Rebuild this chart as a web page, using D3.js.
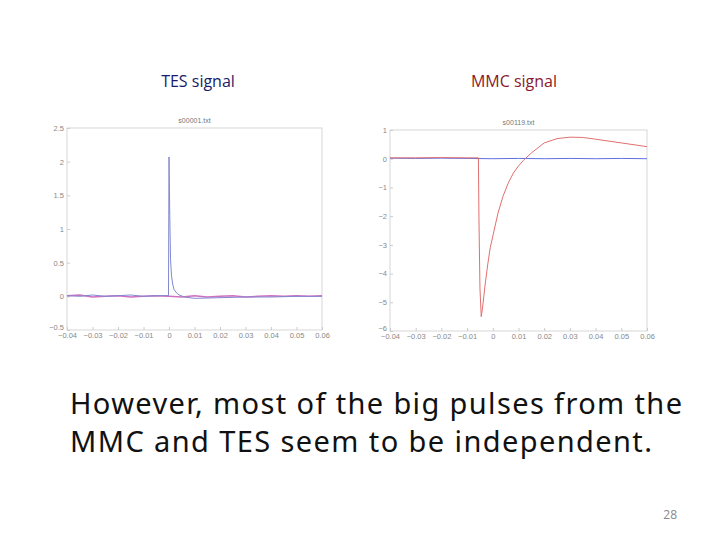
<!DOCTYPE html>
<html><head><meta charset="utf-8">
<script src="https://cdn.jsdelivr.net/npm/d3@7"></script>
<style>body{margin:0;background:#fff}svg{display:block}</style>
</head><body>
<script>
// TES plot data
var tesX = [-0.04,-0.035,-0.03,-0.025,-0.02,-0.015,-0.01,-0.005,-0.0002,0,0.0003,0.0006,0.001,0.0015,0.002,0.003,0.004,0.006,0.01,0.02,0.03,0.04,0.05,0.06];
var tesBlue = [0.01,0.0,0.02,0.0,0.01,0.02,0.0,0.01,0.01,2.07,1.2,0.55,0.3,0.17,0.1,0.05,0.02,-0.01,-0.03,-0.02,-0.01,-0.01,0.0,0.0];
var tesPinkX = [-0.04,-0.035,-0.03,-0.025,-0.02,-0.015,-0.01,-0.005,0,0.005,0.01,0.015,0.02,0.025,0.03,0.035,0.04,0.045,0.05,0.055,0.06];
var tesPink = [0.01,0.02,-0.01,0.0,0.01,-0.01,0.0,0.01,0.0,-0.01,0.01,-0.01,0.0,0.01,-0.01,0.0,0.01,0.0,0.01,0.0,0.01];
var tesYTicks = [-0.5,0,0.5,1,1.5,2,2.5];
// MMC plot data
var mmcRedX = [-0.04,-0.03,-0.02,-0.01,-0.0056,-0.0054,-0.005,-0.0045,-0.004,-0.003,-0.002,-0.001,0,0.002,0.004,0.006,0.008,0.01,0.012,0.015,0.02,0.025,0.03,0.035,0.04,0.05,0.06];
var mmcRed = [0.03,0.03,0.04,0.03,0.03,-2,-4.5,-5.5,-5.2,-4.4,-3.7,-3.1,-2.7,-1.9,-1.3,-0.85,-0.5,-0.25,-0.05,0.2,0.55,0.7,0.75,0.74,0.68,0.55,0.42];
var mmcBlueX = [-0.04,-0.03,-0.02,-0.01,0,0.01,0.02,0.03,0.04,0.05,0.06];
var mmcBlue = [0.02,0.01,0.02,0.01,0.0,0.01,0.0,0.01,0.0,0.01,0.0];
var mmcYTicks = [-6,-5,-4,-3,-2,-1,0,1];
var xTicks = [-0.04,-0.03,-0.02,-0.01,0,0.01,0.02,0.03,0.04,0.05,0.06];

var svg = d3.select("body").append("svg").attr("width",720).attr("height",540);

function plot(left, right, top, bottom, yDom, yTicks, title, series){
  var x = d3.scaleLinear().domain([-0.04,0.06]).range([left,right]);
  var y = d3.scaleLinear().domain(yDom).range([bottom,top]);
  var g = svg.append("g").attr("font-family","Liberation Sans, Arial").attr("font-size",7).attr("fill","#777");
  g.append("rect").attr("x",left).attr("y",top).attr("width",right-left).attr("height",bottom-top)
    .attr("fill","none").attr("stroke","#ccc").attr("stroke-width",0.8);
  g.append("g").attr("transform","translate(0,"+bottom+")")
    .call(d3.axisBottom(x).tickValues(xTicks).tickSize(-3).tickPadding(3).tickFormat(function(d){return d3.format("")(+d.toFixed(2)).replace("-","\u2212");}))
    .call(function(a){a.select(".domain").remove();a.selectAll("line").attr("stroke","#ccc");a.selectAll("text").attr("fill","#888").attr("font-size",7.5);});
  g.append("g").attr("transform","translate("+left+",0)")
    .call(d3.axisLeft(y).tickValues(yTicks).tickSize(-3).tickFormat(function(d){return String(d).replace("-","\u2212");}))
    .call(function(a){a.select(".domain").remove();a.selectAll("line").attr("stroke","#ccc");
      a.selectAll("text").attr("fill","#888").attr("font-size",7.5).attr("dy",function(d){return d===yDom[0]?"-0.1em":"0.32em";});});
  g.append("text").attr("x",(left+right)/2).attr("y",top-5).attr("text-anchor","middle").text(title);
  series.forEach(function(s){
    var pts = s.xs.map(function(v,i){return [v,s.ys[i]];});
    svg.append("path").datum(pts).attr("fill","none").attr("stroke",s.color).attr("stroke-width",s.w||1)
      .attr("d",d3.line().x(function(d){return x(d[0]);}).y(function(d){return y(d[1]);}));
  });
}

plot(67,322,128,330,[-0.5,2.5],tesYTicks,"s00001.txt",[
  {xs:tesPinkX,ys:tesPink,color:"#d070c0",w:1.5},
  {xs:tesX,ys:tesBlue,color:"#8088d0",w:1}
]);
plot(390,647,130,331,[-6,1],mmcYTicks,"s00119.txt",[
  {xs:mmcBlueX,ys:mmcBlue,color:"#6070e0",w:1},
  {xs:mmcRedX,ys:mmcRed,color:"#e07070",w:1}
]);

svg.append("text").attr("x",198).attr("y",87).attr("text-anchor","middle")
  .attr("font-family","Open Sans, Noto Sans").attr("font-size",16).attr("fill","#1a1a6a").text("TES signal");
svg.append("text").attr("x",514).attr("y",87).attr("text-anchor","middle")
  .attr("font-family","Open Sans, Noto Sans").attr("font-size",16).attr("fill","#8a1a2a").text("MMC signal");
svg.append("text").attr("x",70).attr("y",414).attr("font-family","Noto Sans, Open Sans").attr("font-size",29).attr("fill","#111")
  .attr("textLength",612).attr("lengthAdjust","spacing").text("However, most of the big pulses from the");
svg.append("text").attr("x",70).attr("y",452).attr("font-family","Noto Sans, Open Sans").attr("font-size",29).attr("fill","#111")
  .attr("textLength",582).attr("lengthAdjust","spacing").text("MMC and TES seem to be independent.");
svg.append("text").attr("x",677).attr("y",519).attr("text-anchor","end").attr("font-family","Open Sans").attr("font-size",12).attr("fill","#888").text("28");
</script>
</body></html>
